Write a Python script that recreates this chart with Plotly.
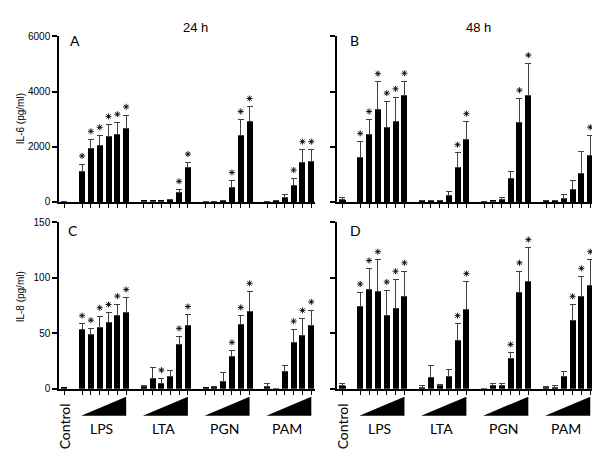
import plotly.graph_objects as go

# ---------------- data ----------------
groups = ["LPS", "LTA", "PGN", "PAM"]
n_per_group = 6

# order: Control, LPS x6, LTA x6, PGN x6, PAM x6
il6_24_vals = [15,
               1110, 1930, 2060, 2370, 2440, 2660,
               25, 25, 25, 95, 355, 1250,
               12, 12, 35, 505, 2420, 2900,
               12, 35, 175, 610, 1430, 1460]
il6_24_err = [0,
              260, 330, 345, 430, 440, 490,
              0, 0, 0, 10, 92, 185,
              0, 0, 0, 265, 560, 550,
              0, 0, 105, 245, 455, 425]
il6_24_star = [0, 1, 1, 1, 1, 1, 1, 0, 0, 0, 0, 1, 1, 0, 0, 0, 1, 1, 1, 0, 0, 0, 1, 1, 1]

il6_48_vals = [70,
               1620, 2450, 3350, 2680, 2930, 3850,
               35, 35, 35, 225, 1235, 2280,
               0, 25, 95, 850, 2890, 3870,
               35, 35, 120, 435, 1035, 1680]
il6_48_err = [105,
              565, 530, 1000, 965, 870, 515,
              0, 0, 0, 150, 540, 620,
              0, 0, 60, 255, 860, 1150,
              0, 0, 150, 330, 810, 730]
il6_48_star = [0, 1, 1, 1, 1, 1, 1, 0, 0, 0, 0, 1, 1, 0, 0, 0, 0, 1, 1, 0, 0, 0, 0, 0, 1]

il8_24_vals = [0.5,
               53.5, 49.4, 55.6, 59.7, 65.9, 68.5,
               1.8, 9.1, 4.7, 11.2, 40.3, 57.0,
               0.5, 0.6, 7.0, 29.4, 58.2, 69.7,
               2.0, 0.0, 15.9, 41.7, 48.2, 56.7]
il8_24_err = [0,
              5.0, 5.0, 10.0, 8.8, 10.2, 13.5,
              0.8, 10.3, 4.7, 5.0, 6.7, 9.7,
              0, 1.4, 7.7, 5.0, 7.7, 17.9,
              3.0, 0, 4.7, 11.8, 15.0, 14.2]
il8_24_star = [0, 1, 1, 1, 1, 1, 1, 0, 0, 1, 0, 1, 1, 0, 0, 0, 1, 1, 1, 0, 0, 0, 1, 1, 1]

il8_48_vals = [2.6,
               74.4, 89.4, 87.3, 66.2, 72.0, 83.5,
               1.2, 10.3, 2.6, 11.2, 43.5, 71.1,
               0.0, 2.6, 2.6, 27.6, 87.0, 96.7,
               0.9, 1.5, 11.5, 61.2, 82.9, 93.5]
il8_48_err = [1.8,
              12.6, 18.8, 28.8, 22.6, 26.5, 22.6,
              1.7, 11.2, 1.5, 6.1, 15.0, 25.3,
              0, 2.4, 2.4, 5.0, 19.1, 30.3,
              1.5, 1.7, 4.1, 14.7, 18.2, 22.6]
il8_48_star = [0, 1, 1, 1, 1, 1, 1, 0, 0, 0, 0, 1, 1, 0, 0, 0, 1, 1, 1, 0, 0, 0, 1, 1, 1]

il6_ticks = [0, 2000, 4000, 6000]
il8_ticks = [0, 50, 100, 150]
time_labels = ["24 h", "48 h"]
panel_letters = ["A", "B", "C", "D"]

# ---------------- positions (control, gap, 6 bars per group, gap ...) ----------------
positions = [0]
group_starts = []
p = 2
for g in groups:
    group_starts.append(p)
    positions += list(range(p, p + n_per_group))
    p += n_per_group + 1

W, H = 600, 456
def px_x(v): return v / W
def px_y(v): return 1 - v / H

FONT_ARIAL = "Liberation Sans, Arial, sans-serif"
FONT_CAL = "Lato, Open Sans, sans-serif"

PLOT_H_PX = 170.5      # height of each panel's plotting area in pixels
STAR_GAP_PX = 8.5      # star centre above the error-bar cap, in pixels

fig = go.Figure()

panels = [
    ("x", "y", il6_24_vals, il6_24_err, il6_24_star, 6000),
    ("x2", "y2", il6_48_vals, il6_48_err, il6_48_star, 6000),
    ("x3", "y3", il8_24_vals, il8_24_err, il8_24_star, 150),
    ("x4", "y4", il8_48_vals, il8_48_err, il8_48_star, 150),
]

for xa, ya, vals, errs, stars, ymax in panels:
    fig.add_trace(go.Bar(
        x=positions, y=vals, width=0.68,
        marker=dict(color="black", line=dict(width=0)),
        error_y=dict(type="data", array=errs, arrayminus=[0] * len(errs),
                     symmetric=False, color="#404040", thickness=1, width=3),
        xaxis=xa, yaxis=ya, showlegend=False, hoverinfo="skip"))
    off = STAR_GAP_PX * ymax / PLOT_H_PX
    sx = [positions[i] for i in range(len(vals)) if stars[i]]
    sy = [vals[i] + errs[i] + off for i in range(len(vals)) if stars[i]]
    fig.add_trace(go.Scatter(
        x=sx, y=sy, mode="markers",
        marker=dict(symbol="asterisk-open", size=5, color="black",
                    line=dict(color="#111111", width=0.9)),
        xaxis=xa, yaxis=ya, showlegend=False, hoverinfo="skip", cliponaxis=False))

xrange_ = [-0.62, 28.42]
xdoms = [[px_x(51), px_x(307)], [px_x(329), px_x(586)]]
ydoms = [[px_y(193), px_y(23)], [px_y(385), px_y(214)]]

def xax(dom, anchor):
    return dict(domain=dom, range=xrange_, anchor=anchor, showline=True, linecolor="black",
                linewidth=1.5, ticks="outside", tickvals=positions, ticklen=4, tickwidth=1,
                tickcolor="black", showticklabels=False, showgrid=False, zeroline=False,
                fixedrange=True)

def yax(dom, anchor, rng, tickv, labels):
    return dict(domain=dom, range=rng, anchor=anchor, showline=True, linecolor="black",
                linewidth=1.5, ticks="outside", tickvals=tickv, ticklen=5, tickwidth=1.5,
                tickcolor="black", showticklabels=labels, showgrid=False, zeroline=False,
                tickfont=dict(family=FONT_ARIAL, size=10, color="black"), fixedrange=True)

fig.update_layout(
    width=W, height=H, margin=dict(l=0, r=0, t=0, b=0),
    paper_bgcolor="white", plot_bgcolor="white", showlegend=False, bargap=0,
    xaxis=xax(xdoms[0], "y"), yaxis=yax(ydoms[0], "x", [0, 6000], il6_ticks, True),
    xaxis2=xax(xdoms[1], "y2"), yaxis2=yax(ydoms[0], "x2", [0, 6000], il6_ticks, False),
    xaxis3=xax(xdoms[0], "y3"), yaxis3=yax(ydoms[1], "x3", [0, 150], il8_ticks, True),
    xaxis4=xax(xdoms[1], "y4"), yaxis4=yax(ydoms[1], "x4", [0, 150], il8_ticks, False),
)

ann = []
# time titles
for txt, cx in zip(time_labels, [187, 470]):
    ann.append(dict(text=txt, x=px_x(cx), y=px_y(14), xref="paper", yref="paper",
                    showarrow=False, font=dict(family=FONT_ARIAL, size=13, color="black"),
                    xanchor="center", yanchor="middle"))
# y titles
ann.append(dict(text="IL-6 (pg/ml)", x=px_x(12), y=px_y(108), xref="paper", yref="paper",
                showarrow=False, textangle=-90, font=dict(family=FONT_ARIAL, size=10, color="black"),
                xanchor="center", yanchor="middle"))
ann.append(dict(text="IL-8 (pg/ml)", x=px_x(12), y=px_y(291), xref="paper", yref="paper",
                showarrow=False, textangle=-90, font=dict(family=FONT_ARIAL, size=10, color="black"),
                xanchor="center", yanchor="middle"))
# panel letters
for L, (lx, ly) in zip(panel_letters, [(67, 27), (346, 27), (65, 222), (347, 222)]):
    ann.append(dict(text=L, x=px_x(lx), y=px_y(ly), xref="paper", yref="paper", showarrow=False,
                    font=dict(family=FONT_CAL, size=14, color="black"),
                    xanchor="center", yanchor="middle"))

shapes = []
for xa in ["x3", "x4"]:
    ann.append(dict(text="Control", x=0, y=px_y(423), xref=xa, yref="paper", showarrow=False,
                    textangle=-90, font=dict(family=FONT_CAL, size=14, color="black"),
                    xanchor="center", yanchor="middle"))
    for g, s in zip(groups, group_starts):
        e = s + n_per_group - 1
        ann.append(dict(text=g, x=(s + e) / 2 - 0.3, y=px_y(426), xref=xa, yref="paper",
                        showarrow=False, font=dict(family=FONT_CAL, size=14, color="black"),
                        xanchor="center", yanchor="middle"))
        x0, x1 = s - 0.1, e
        yb, yt = px_y(412.5), px_y(393)
        shapes.append(dict(type="path", xref=xa, yref="paper",
                           path=f"M {x0},{yb} L {x1},{yt} L {x1},{yb} Z",
                           fillcolor="black", line=dict(width=0)))

fig.update_layout(annotations=ann, shapes=shapes)
fig.write_html("out.html")
